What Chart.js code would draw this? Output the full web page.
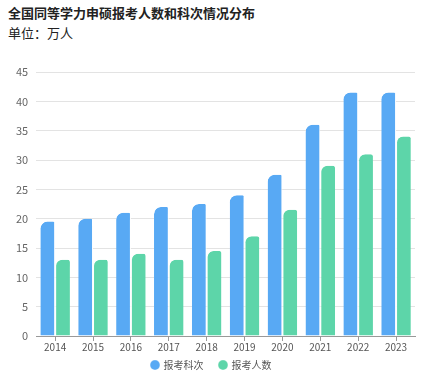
<!DOCTYPE html>
<html><head><meta charset="utf-8">
<script src="https://cdn.jsdelivr.net/npm/chart.js@4"></script>
<style>
html,body{margin:0;padding:0;background:#fff;width:431px;height:378px;overflow:hidden;font-family:"Noto Sans CJK SC","Noto Sans",sans-serif;}
#t{position:absolute;left:8px;top:3px;font-size:13px;font-weight:bold;color:#222;}
#s{position:absolute;left:8px;top:23px;font-size:13px;color:#222;}
#w{position:absolute;left:0;top:50px;width:431px;height:339px;}
</style></head><body>
<div id="t">全国同等学力申硕报考人数和科次情况分布</div>
<div id="s">单位：万人</div>
<div id="w"><canvas id="c"></canvas></div>
<script>
const categories = ["2014","2015","2016","2017","2018","2019","2020","2021","2022","2023"];
const subjectCounts = [19.5,20,21,22,22.5,24,27.5,36,41.5,41.5];
const applicantCounts = [13,13,14,13,14.5,17,21.5,29,31,34];
const seriesNames = ["报考科次","报考人数"];
const yTicks = {min:0,max:45,step:5};

const font = {family:'"Noto Sans CJK SC","Noto Sans",sans-serif', size:10};
const legendShift = {id:'legendShift', afterLayout(chart){ const l = chart.legend; if(l){ l.top -= 9; l.bottom -= 9; } }};
new Chart(document.getElementById('c'), {
  type:'bar',
  data:{labels:categories, datasets:[
    {label:seriesNames[0], data:subjectCounts, backgroundColor:'#58a9f4', borderColor:'#ffffff', borderWidth:{left:0,right:1,top:0,bottom:0}, borderSkipped:'bottom', borderRadius:{topLeft:7,topRight:2,bottomLeft:0,bottomRight:0}},
    {label:seriesNames[1], data:applicantCounts, backgroundColor:'#5dd5a9', borderColor:'#ffffff', borderWidth:{left:1,right:0,top:0,bottom:0}, borderSkipped:'bottom', borderRadius:{topLeft:7,topRight:2,bottomLeft:0,bottomRight:0}}
  ]},
  plugins:[legendShift],
  options:{
    responsive:true, maintainAspectRatio:false, animation:false,
    layout:{padding:{left:8,right:16,top:22,bottom:0}},
    datasets:{bar:{categoryPercentage:0.78,barPercentage:1}},
    plugins:{
      legend:{position:'bottom', labels:{usePointStyle:true, pointStyle:'circle', boxWidth:7, boxHeight:7, padding:16, font, color:'#555'}},
      tooltip:{enabled:false}
    },
    scales:{
      x:{grid:{offset:false, drawOnChartArea:false, drawTicks:true, tickLength:5, color:'#999'}, border:{display:true,color:'#999'}, ticks:{font, color:'#555', padding:0}},
      y:{min:yTicks.min, max:yTicks.max, ticks:{stepSize:yTicks.step, font:{...font,size:11}, color:'#666', padding:8}, grid:{color:'#e3e3e3', drawTicks:false}, border:{display:false}}
    }
  }
});
</script>
</body></html>
